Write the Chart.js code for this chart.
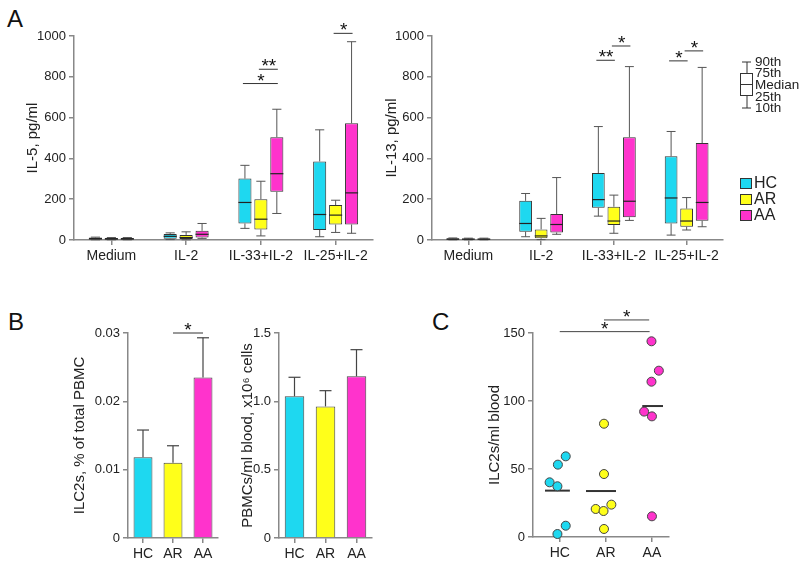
<!DOCTYPE html>
<html>
<head>
<meta charset="utf-8">
<script src="https://cdn.jsdelivr.net/npm/chart.js@4.4.1/dist/chart.umd.min.js"></script>
<style>
  body { margin: 0; background: #fff; width: 800px; height: 566px; position: relative; overflow: hidden; font-family: Arial, "Liberation Sans", sans-serif; }
  canvas { position: absolute; }
  .panel { position: absolute; font-size: 24px; line-height: 24px; color: #111; }
</style>
</head>
<body>
<div class="panel" style="left:7px;top:7px">A</div>
<div class="panel" style="left:8px;top:310px">B</div>
<div class="panel" style="left:432px;top:310px">C</div>
<canvas id="il5" width="395" height="275" style="left:0;top:0"></canvas>
<canvas id="il13" width="422" height="275" style="left:378px;top:0"></canvas>
<canvas id="pct" width="230" height="281" style="left:0;top:285px"></canvas>
<canvas id="pbmc" width="160" height="281" style="left:230px;top:285px"></canvas>
<canvas id="blood" width="300" height="281" style="left:400px;top:285px"></canvas>
<script>
const groups = ["HC", "AR", "AA"];
const groupColors = ["#1ed8f0", "#ffff1a", "#ff33cc"];
const stimLabels = ["Medium", "IL-2", "IL-33+IL-2", "IL-25+IL-2"];

// box stats per stimulus: [10th, 25th, median, 75th, 90th]
const il5HC = [[1, 3, 6, 12, 14], [2, 6, 18, 30, 35], [57, 81, 184, 301, 366], [16, 49, 125, 385, 540]];
const il5AR = [[1, 3, 5, 10, 12], [1, 5, 12, 25, 40], [20, 52, 102, 200, 288], [37, 76, 122, 171, 195]];
const il5AA = [[1, 3, 5, 10, 12], [8, 12, 28, 45, 81], [130, 236, 325, 504, 641], [33, 76, 231, 572, 972]];

const il13HC = [[1, 2, 4, 8, 10], [16, 41, 81, 192, 228], [117, 158, 198, 328, 556], [24, 81, 206, 410, 532]];
const il13AR = [[1, 2, 4, 7, 9], [2, 8, 20, 52, 106], [33, 73, 93, 163, 220], [49, 65, 93, 154, 208]];
const il13AA = [[1, 2, 4, 7, 9], [28, 37, 76, 127, 306], [96, 111, 190, 504, 850], [65, 94, 184, 475, 846]];

// significance bars: category, from group, to group, height, label
const sigIL5 = [
	{ cat: 2, a: 0, b: 2, y: 767, t: "*" },
	{ cat: 2, a: 1, b: 2, y: 837, t: "**" },
	{ cat: 3, a: 1, b: 2, y: 1013, t: "*" },
];
const sigIL13 = [
	{ cat: 2, a: 0, b: 1, y: 881, t: "**" },
	{ cat: 2, a: 1, b: 2, y: 951, t: "*" },
	{ cat: 3, a: 0, b: 1, y: 878, t: "*" },
	{ cat: 3, a: 1, b: 2, y: 927, t: "*" },
];

// panel B: mean and SEM
const ilc2Pct = [0.0118, 0.011, 0.0235];
const ilc2PctErr = [0.004, 0.0025, 0.0058];
const sigPct = [{ cat: 0, a: 1, b: 2, y: 0.03, t: "*" }];
const pbmcCount = [1.037, 0.963, 1.183];
const pbmcErr = [0.139, 0.115, 0.195];

// panel C: individual donors (x = group position with jitter)
const hcX = [0.78, 0.96, 1.13, 0.95, 1.13, 0.95];
const hcY = [40.2, 53.2, 59.3, 37.3, 8.3, 2.2];
const arX = [1.96, 1.96, 1.78, 1.95, 2.12, 1.96];
const arY = [83.3, 46.3, 20.6, 19.1, 23.8, 5.9];
const aaX = [2.99, 3.15, 2.99, 2.83, 3.0, 3.0];
const aaY = [143.9, 122.3, 114.2, 92.2, 88.7, 15.2];
const medC = [34.1, 33.8, 96.3];
const medSpanC = [[0.68, 1.22], [1.57, 2.22], [2.79, 3.24]];
const sigC = [
	{ a: 1, b: 2.95, y: 151, t: "*" },
	{ a: 1.96, b: 2.94, y: 159.6, t: "*" },
];

const FONT = "Arial, 'Liberation Sans', sans-serif";
Chart.defaults.font.family = FONT;
Chart.defaults.color = "#222";
Chart.defaults.animation = false;
Chart.defaults.plugins.legend.display = false;
Chart.defaults.plugins.tooltip.enabled = false;

function line(ctx, x1, y1, x2, y2) {
	ctx.beginPath();
	ctx.moveTo(x1, y1);
	ctx.lineTo(x2, y2);
	ctx.stroke();
}

// asterisks sit just above their bar
function star(ctx, text, x, lineY) {
	ctx.fillStyle = "#111";
	ctx.font = "19px " + FONT;
	ctx.textAlign = "center";
	ctx.textBaseline = "alphabetic";
	ctx.fillText(text, x, lineY + 3);
}

function drawSig(chart, sig) {
	const { ctx, scales } = chart;
	ctx.save();
	ctx.strokeStyle = "#333";
	ctx.lineWidth = 1;
	sig.forEach((s) => {
		const x1 = chart.getDatasetMeta(s.a).data[s.cat].x;
		const x2 = chart.getDatasetMeta(s.b).data[s.cat].x;
		const y = scales.y.getPixelForValue(s.y);
		line(ctx, x1 - 2, y, x2 + 1, y);
		star(ctx, s.t, (x1 + x2) / 2, y);
	});
	ctx.restore();
}

function boxExtras(stats, sig) {
	return {
		id: "boxExtras",
		afterDatasetsDraw(chart) {
			const { ctx, scales } = chart;
			const yp = (v) => scales.y.getPixelForValue(v);
			ctx.save();
			stats.forEach((rows, di) => {
				chart.getDatasetMeta(di).data.forEach((bar, i) => {
					const q = rows[i];
					const hw = bar.width / 2;
					ctx.strokeStyle = "#555";
					ctx.lineWidth = 1;
					line(ctx, bar.x, yp(q[3]), bar.x, yp(q[4]));
					line(ctx, bar.x - hw * 0.7, yp(q[4]), bar.x + hw * 0.7, yp(q[4]));
					line(ctx, bar.x, yp(q[1]), bar.x, yp(q[0]));
					line(ctx, bar.x - hw * 0.7, yp(q[0]), bar.x + hw * 0.7, yp(q[0]));
					ctx.strokeStyle = "#222";
					ctx.lineWidth = 1.2;
					line(ctx, bar.x - hw, yp(q[2]), bar.x + hw, yp(q[2]));
				});
			});
			ctx.restore();
			drawSig(chart, sig);
		},
	};
}

function errExtras(err, sig) {
	return {
		id: "errExtras",
		afterDatasetsDraw(chart) {
			const { ctx, scales } = chart;
			const meta = chart.getDatasetMeta(0);
			const vals = chart.data.datasets[0].data;
			ctx.save();
			ctx.strokeStyle = "#444";
			ctx.lineWidth = 1.2;
			meta.data.forEach((bar, i) => {
				const top = scales.y.getPixelForValue(vals[i] + err[i]);
				line(ctx, bar.x, bar.y, bar.x, top);
				line(ctx, bar.x - 6, top, bar.x + 6, top);
			});
			ctx.restore();
			if (sig) {
				ctx.save();
				ctx.strokeStyle = "#333";
				ctx.lineWidth = 1;
				sig.forEach((s) => {
					const x1 = meta.data[s.a].x;
					const x2 = meta.data[s.b].x;
					const y = scales.y.getPixelForValue(s.y);
					line(ctx, x1, y, x2, y);
					star(ctx, s.t, (x1 + x2) / 2, y);
				});
				ctx.restore();
			}
		},
	};
}

// box key + group legend, drawn to the right of the IL-13 plot
const il13Legend = {
	id: "il13Legend",
	afterDraw(chart) {
		const { ctx } = chart;
		const ox = 740 - 378;
		ctx.save();
		ctx.strokeStyle = "#333";
		ctx.lineWidth = 1;
		line(ctx, ox + 7, 62, ox + 7, 108);
		line(ctx, ox + 2, 62, ox + 11, 62);
		line(ctx, ox + 2, 108, ox + 11, 108);
		ctx.fillStyle = "#fff";
		ctx.fillRect(ox, 73, 13, 22);
		ctx.strokeRect(ox + 0.5, 73.5, 12, 22);
		line(ctx, ox, 84.5, ox + 13, 84.5);
		ctx.fillStyle = "#222";
		ctx.font = "13.5px " + FONT;
		ctx.textAlign = "left";
		ctx.textBaseline = "middle";
		[["90th", 62], ["75th", 73], ["Median", 85], ["25th", 97], ["10th", 108]].forEach(([t, y]) => {
			ctx.fillText(t, ox + 15, y);
		});
		ctx.font = "16px " + FONT;
		chart.data.datasets.forEach((ds, i) => {
			const y = 178 + i * 16;
			ctx.fillStyle = ds.backgroundColor;
			ctx.fillRect(ox, y, 12, 11);
			ctx.strokeStyle = "#333";
			ctx.strokeRect(ox + 0.5, y + 0.5, 11, 10);
			ctx.fillStyle = "#222";
			ctx.fillText(ds.label, ox + 14, y + 6);
		});
		ctx.restore();
	},
};

function yAxis(width, max, step, title, titlePad, fmt) {
	return {
		min: 0,
		max: max,
		ticks: { stepSize: step, padding: 3, font: { size: 13 }, callback: fmt },
		grid: { display: true, drawOnChartArea: false, tickLength: 5, color: "#888", lineWidth: 1.5 },
		border: { color: "#888", width: 1.5 },
		title: { display: true, text: title, font: { size: 15 }, padding: { top: titlePad, bottom: 0 } },
		afterFit: (s) => {
			s.width = width;
		},
	};
}

function xAxis(height) {
	return {
		grid: { display: true, drawOnChartArea: false, offset: false, tickLength: 5, color: "#888", lineWidth: 1.5 },
		border: { color: "#888", width: 1.5 },
		ticks: { padding: 3, font: { size: 14 }, maxRotation: 0, autoSkip: false },
		afterFit: (s) => {
			s.height = height;
		},
	};
}

function boxChart(id, stats, sig, title, titlePad, yWidth, padRight, extra) {
	return new Chart(document.getElementById(id), {
		type: "bar",
		data: {
			labels: stimLabels,
			datasets: groups.map((g, i) => ({
				label: g,
				data: stats[i].map((q) => [q[1], q[3]]),
				backgroundColor: groupColors[i],
				borderColor: "#333",
				borderWidth: 1,
				borderSkipped: false,
				categoryPercentage: 0.64,
				barPercentage: 0.82,
			})),
		},
		options: {
			responsive: false,
			devicePixelRatio: 1,
			layout: { padding: { left: 0, right: padRight, top: 36, bottom: 0 } },
			scales: {
				x: xAxis(35),
				y: yAxis(yWidth, 1000, 200, title, titlePad, (v) => String(v)),
			},
		},
		plugins: [boxExtras(stats, sig)].concat(extra),
	});
}

function barChart(id, values, err, sig, title, titlePad, yWidth, padRight, max, step, fmt) {
	return new Chart(document.getElementById(id), {
		type: "bar",
		data: {
			labels: groups,
			datasets: [
				{
					data: values,
					backgroundColor: groupColors,
					borderColor: "#444",
					borderWidth: 1,
					categoryPercentage: 1,
					barPercentage: 0.63,
				},
			],
		},
		options: {
			responsive: false,
			devicePixelRatio: 1,
			layout: { padding: { left: 0, right: padRight, top: 48, bottom: 0 } },
			scales: {
				x: xAxis(28),
				y: yAxis(yWidth, max, step, title, titlePad, fmt),
			},
		},
		plugins: [errExtras(err, sig)],
	});
}

boxChart("il5", [il5HC, il5AR, il5AA], sigIL5, "IL-5, pg/ml", 24, 74, 22, []);
boxChart("il13", [il13HC, il13AR, il13AA], sigIL13, "IL-13, pg/ml", 5, 54, 77, [il13Legend]);

barChart("pct", ilc2Pct, ilc2PctErr, sigPct, "ILC2s, % of total PBMC", 71, 128, 12, 0.03, 0.01,
	(v) => (v === 0 ? "0" : v.toFixed(2)));
barChart("pbmc", pbmcCount, pbmcErr, null, "PBMCs/ml blood, x10\u2076 cells", 9, 49, 18, 1.5, 0.5,
	(v) => (v === 0 ? "0" : v.toFixed(1)));

// panel C
const toPts = (xs, ys) => xs.map((x, i) => ({ x: x, y: ys[i] }));
const cPoints = [toPts(hcX, hcY), toPts(arX, arY), toPts(aaX, aaY)];

const sigCPlugin = {
	id: "sigC",
	afterDatasetsDraw(chart) {
		const { ctx, scales } = chart;
		ctx.save();
		ctx.strokeStyle = "#444";
		ctx.lineWidth = 1;
		sigC.forEach((s) => {
			const x1 = scales.x.getPixelForValue(s.a);
			const x2 = scales.x.getPixelForValue(s.b);
			const y = scales.y.getPixelForValue(s.y);
			line(ctx, x1, y, x2, y);
			star(ctx, s.t, (x1 + x2) / 2, y);
		});
		ctx.restore();
	},
};

new Chart(document.getElementById("blood"), {
	type: "scatter",
	data: {
		datasets: groups
			.map((g, i) => ({
				label: g,
				data: cPoints[i],
				pointRadius: 4.5,
				pointBackgroundColor: groupColors[i],
				pointBorderColor: "#444",
				pointBorderWidth: 1,
				clip: false,
			}))
			.concat(
				medC.map((m, i) => ({
					type: "line",
					data: [
						{ x: medSpanC[i][0], y: m },
						{ x: medSpanC[i][1], y: m },
					],
					borderColor: "#333",
					borderWidth: 2,
					pointRadius: 0,
					clip: false,
				}))
			),
	},
	options: {
		responsive: false,
		devicePixelRatio: 1,
		layout: { padding: { left: 0, right: 31, top: 48, bottom: 0 } },
		scales: {
			x: {
				type: "linear",
				min: 0.42,
				max: 3.37,
				afterBuildTicks: (s) => {
					s.ticks = [{ value: 1 }, { value: 2 }, { value: 3 }];
				},
				ticks: { padding: 3, font: { size: 14 }, callback: (v) => groups[v - 1] },
				grid: { display: true, drawOnChartArea: false, tickLength: 5, color: "#888", lineWidth: 1.5 },
				border: { color: "#888", width: 1.5 },
				afterFit: (s) => {
					s.height = 29;
				},
			},
			y: yAxis(133, 150, 50, "ILC2s/ml blood", 86, (v) => String(v)),
		},
	},
	plugins: [sigCPlugin],
});
</script>
</body>
</html>
